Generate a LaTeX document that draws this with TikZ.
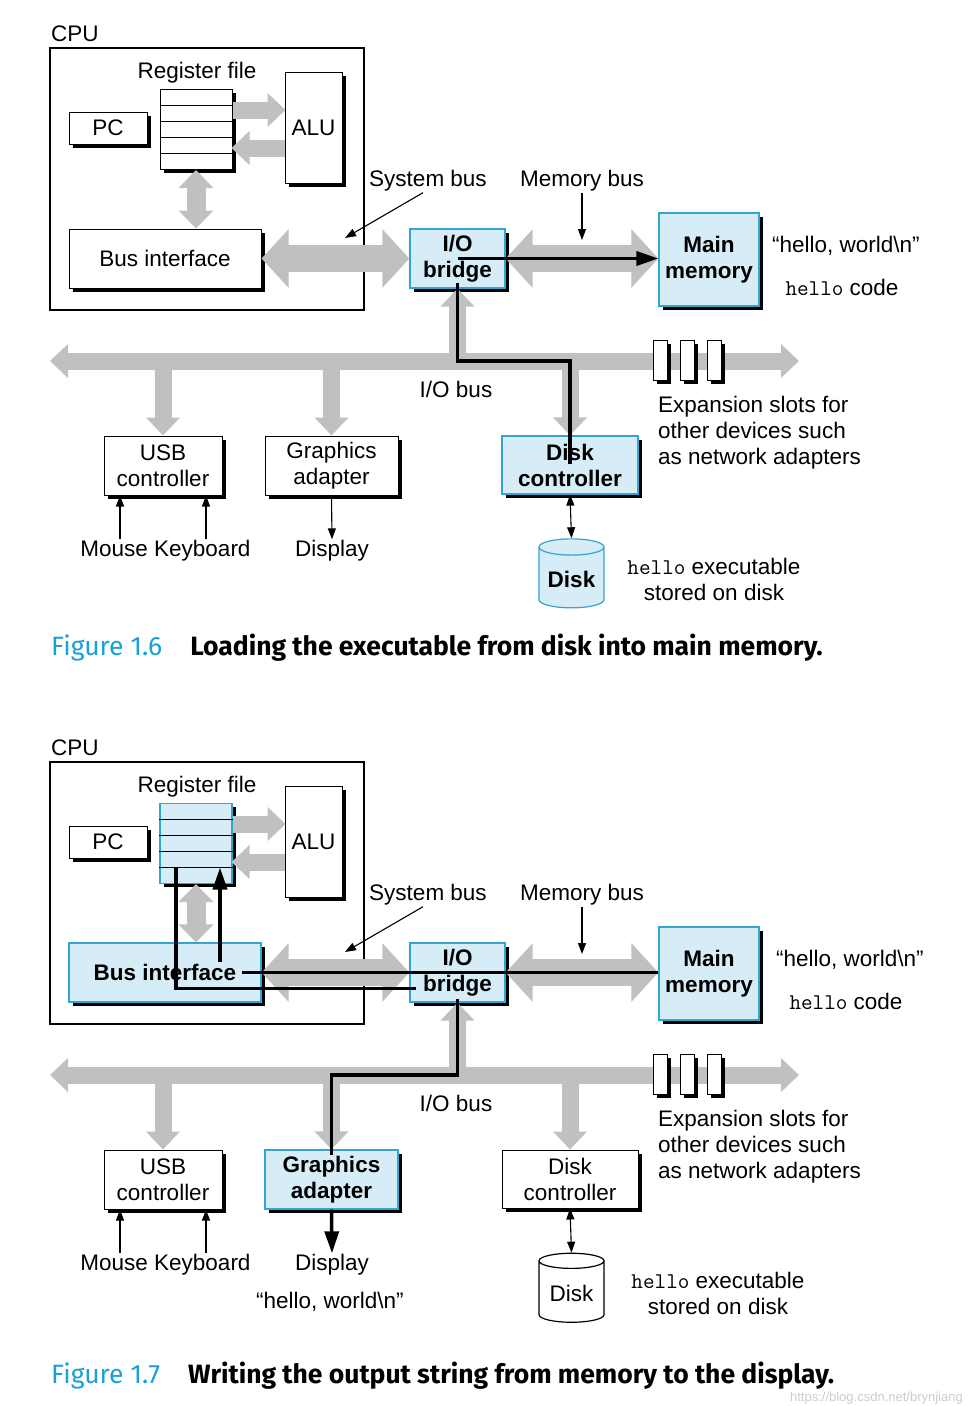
\documentclass[tikz,border=0pt]{standalone}
\usepackage{fontspec}
\setmainfont{Liberation Sans}
\newfontfamily\capfont{Fira Sans}
\usetikzlibrary{arrows.meta, shapes.geometric, shadows, calc}
\definecolor{hiblue}{RGB}{214,236,246}
\definecolor{edgeblue}{RGB}{50,165,210}
\definecolor{busgray}{RGB}{192,192,192}
\definecolor{figcyan}{RGB}{22,160,214}
\newcommand{\bodyfont}{\fontsize{22.5}{26}\selectfont}
\newcommand{\prog}[1]{{\ttfamily\fontsize{22.5}{26}\selectfont #1}}
\tikzset{
  shadowed/.style={drop shadow={shadow xshift=3.5pt, shadow yshift=-3.5pt, fill=black, opacity=1}},
  plainbox/.style={draw, line width=1pt, fill=white, shadowed, align=center},
  hotbox/.style={draw=edgeblue, line width=1.2pt, fill=hiblue, shadowed, align=center, font=\bodyfont\bfseries},
  plaindisk/.style={cylinder, shape border rotate=90, aspect=0.3, draw, line width=1.2pt, fill=white},
  hotdisk/.style={plaindisk, draw=edgeblue, fill=hiblue, font=\bodyfont\bfseries},
  slot/.style={draw, line width=0.8pt, fill=white, shadowed, minimum width=14pt, minimum height=40pt, inner sep=0pt},
  lbl/.style={inner sep=1pt, align=left},
  bus/.style={draw=busgray, line width=17pt, arrows={-Triangle[width=33pt,length=18pt]}},
  twobus/.style={draw=busgray, line width=17pt, arrows={Triangle[width=33pt,length=18pt]-Triangle[width=33pt,length=18pt]}},
  regbus/.style={draw=busgray, line width=19pt, arrows={Triangle[width=34pt,length=18pt]-Triangle[width=34pt,length=18pt]}},
  fatbus/.style={draw=busgray, line width=27pt, arrows={Triangle[width=57pt,length=27pt]-Triangle[width=57pt,length=27pt]}},
  pointer/.style={line width=1.1pt, -{Triangle[width=8pt,length=11pt]}},
  twoway/.style={line width=1.1pt, {Triangle[width=8pt,length=11pt]}-{Triangle[width=8pt,length=11pt]}},
  data/.style={draw=black, line width=3.5pt},
  datatip/.style={data, -{Triangle[width=14pt,length=22pt]}},
  caption/.style={lbl, anchor=west, font=\capfont\fontsize{26.5}{30}\selectfont},
}
\begin{document}
\begin{tikzpicture}[x=1pt, y=-1pt, font=\bodyfont]
\useasboundingbox (0,0) rectangle (972,1406);

\foreach \f/\dy/\hx/\rfst/\bist/\gast/\dcst/\dkst/\dispst in
  {a/0/0/plainbox/plainbox/plainbox/hotbox/hotdisk/pointer,
   b/714/4/hotbox/hotbox/hotbox/plainbox/plaindisk/datatip}{
\begin{scope}[yshift=-\dy pt]
  % CPU chip
  \node[lbl, anchor=west] (cpul\f) at (50,34) {CPU};
  \node[draw, line width=2.5pt, minimum width=314pt, minimum height=262pt] (cpu\f) at (207,179) {};
  \node[lbl] (rfl\f) at (197,73) {Register file};
  \node[\rfst, minimum width=72pt, minimum height=80pt] (rf\f) at (196,129.5) {};
  \foreach \r in {1,...,4}
    \draw[line width=0.8pt] ($(rf\f.north west)+(0,16*\r)$) -- ($(rf\f.north east)+(0,16*\r)$);
  \node[plainbox, minimum width=78pt, minimum height=32pt] (pc\f) at (108,128) {PC};
  \node[plainbox, minimum width=57pt, minimum height=111pt] (alu\f) at (313.5,127.5) {ALU};
  \node[\bist, minimum width=192pt, minimum height=59pt] (bi\f) at (165,258.5) {Bus interface};

  % bridge, memory, devices
  \node[hotbox, minimum width=95pt, minimum height=59pt] (io\f) at (457.5,258.5) {I/O\\bridge};
  \node[hotbox, minimum width=100pt, minimum height=93pt] (mm\f) at (709,259.5) {Main\\memory};
  \node[plainbox, minimum width=118pt, minimum height=59pt] (usb\f) at (163,465.5) {USB\\controller};
  \node[\gast, minimum width=133pt, minimum height=59pt] (ga\f) at (331.5,465.5) {Graphics\\adapter};
  \node[\dcst, minimum width=136pt, minimum height=58pt] (dc\f) at (570,465) {Disk\\controller};
  \node[\dkst, minimum width=65pt, minimum height=69pt] (disk\f) at (571.5,579.5) {Disk};

  % buses
  \coordinate (busl\f) at (50,361);
  \coordinate (busr\f) at (799,361);
  \draw[bus] ([yshift=19.5pt]rf\f.east) -- ++(53,0);
  \draw[bus] ([yshift=-20.5pt]alu\f.west) -- ++(-53,0);
  \draw[regbus] (rf\f.south) -- (rf\f.south |- bi\f.north);
  \draw[fatbus] (bi\f.east) -- (io\f.west);
  \draw[fatbus] (io\f.east) -- (io\f.east -| mm\f.west);
  \draw[twobus] (busl\f) -- (busr\f);
  \draw[bus] (io\f.south |- busl\f) -- (io\f.south);
  \foreach \n in {usb,ga,dc}
    \draw[bus] (\n\f.north |- busl\f) -- (\n\f.north);
  \node[slot] (slot1\f) at (660,360) {};
  \node[slot] (slot2\f) at (687,360) {};
  \node[slot] (slot3\f) at (714.5,360) {};

  % labels
  \node[lbl] (sysl\f) at (428,181) {System bus};
  \node[lbl] (meml\f) at (582,181) {Memory bus};
  \node[lbl] (iobl\f) at (456,389) {I/O bus};
  \node[lbl, xshift=\hx pt] (hw\f) at (846,246) {“hello, world\textbackslash n”};
  \node[lbl, xshift=\hx pt] (hc\f) at (842,287) {\prog{hello} code};
  \node[lbl, anchor=west] (exp\f) at (657,433) {Expansion slots for\\other devices such\\as network adapters};
  \node[lbl] (mk\f) at (165.5,551) {Mouse Keyboard};
  \node[lbl] (disp\f) at (332,551) {Display};
  \node[lbl, align=center, xshift=\hx pt] (exe\f) at (714,579) {\prog{hello} executable\\stored on disk};

  \coordinate (sbt\f) at (345,238);
  \coordinate (mbt\f) at (582,240);
  \draw[pointer] ([xshift=-5pt]sysl\f.south) -- (sbt\f);
  \draw[pointer] (meml\f.south) -- (mbt\f);
  \draw[pointer] (mk\f.north -| 120,0) -- (usb\f.south -| 120,0);
  \draw[pointer] (mk\f.north -| 206,0) -- (usb\f.south -| 206,0);
  \draw[\dispst] (ga\f.south) -- (disp\f.north);
  \draw[twoway] (dc\f.south) -- (disk\f.north);
\end{scope}
}

% Figure 1.6: disk -> memory
\draw[datatip] (ioa.center) -- (ioa.center -| mma.west);
\draw[data] ([yshift=-24pt]ioa.center) -- (ioa.center |- busla) -| ([yshift=1pt]dca.center);

% Figure 1.7: memory -> display
\draw[data] (iob.center -| mmb.west) -- ($(bib.center)+(77,0)$);
\draw[datatip] ($(bib.center)+(55,-11)$) -- ($(rfb.center)+(24,24)$);
\draw[data] ($(rfb.center)+(-20,24)$) |- ($(iob.center)+(-42,16)$);
\draw[data] ($(iob.center)+(0,26)$) -- (iob.center |- buslb) -| ($(gab.north)+(0,6)$);
\node[lbl] (hwb2) at (330,1302) {“hello, world\textbackslash n”};

% captions
\node[caption] (cap1) at (50,648)
  {\textcolor{figcyan}{Figure 1.6}\hspace{28pt}\textbf{Loading the executable from disk into main memory.}};
\node[caption] (cap2) at (50,1376)
  {\textcolor{figcyan}{Figure 1.7}\hspace{28pt}\textbf{Writing the output string from memory to the display.}};
\node[lbl, anchor=east, text=black!20, font=\fontsize{13}{15}\selectfont] (wm) at (964,1398) {https://blog.csdn.net/brynjiang};
\end{tikzpicture}
\end{document}
